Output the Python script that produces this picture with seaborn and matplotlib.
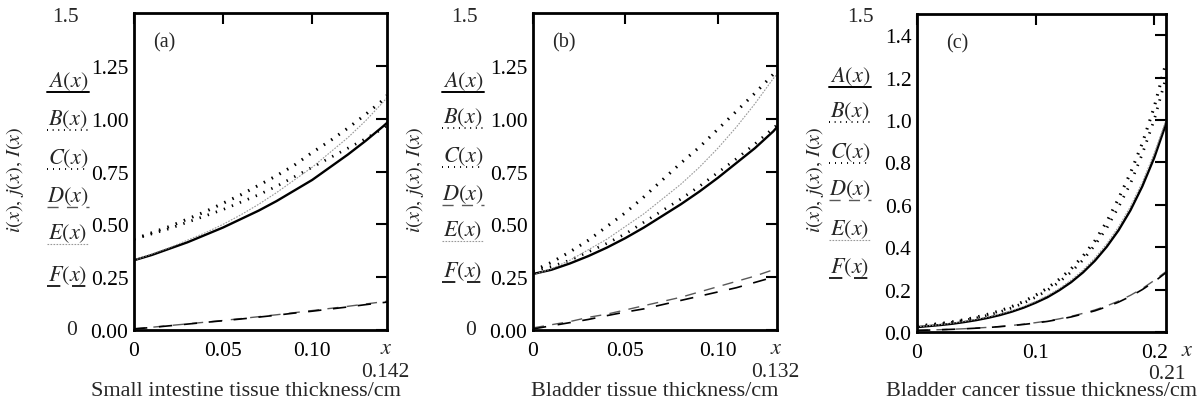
import numpy as np
import pandas as pd
import matplotlib
matplotlib.use("Agg")
import matplotlib.pyplot as plt
from matplotlib.lines import Line2D
import seaborn as sns

# ---- data ----
# panel (a) small intestine
xa = [0, 0.01, 0.02, 0.03, 0.04, 0.05, 0.06, 0.07, 0.08, 0.09, 0.10, 0.11, 0.12, 0.13, 0.14, 0.142]
a_A = [0.33, 0.355, 0.385, 0.415, 0.45, 0.485, 0.525, 0.565, 0.61, 0.66, 0.71, 0.77, 0.83, 0.895, 0.965, 0.98]
a_B = [0.43, 0.46, 0.49, 0.525, 0.56, 0.60, 0.64, 0.685, 0.73, 0.78, 0.84, 0.895, 0.955, 1.02, 1.09, 1.11]
a_C = [0.43, 0.455, 0.48, 0.51, 0.54, 0.57, 0.605, 0.64, 0.68, 0.725, 0.77, 0.815, 0.86, 0.905, 0.955, 0.97]
a_D = [0.006, 0.013, 0.021, 0.029, 0.037, 0.045, 0.054, 0.063, 0.072, 0.082, 0.092, 0.102, 0.112, 0.123, 0.134, 0.136]
a_E = [0.33, 0.36, 0.39, 0.425, 0.46, 0.50, 0.545, 0.595, 0.65, 0.71, 0.77, 0.84, 0.91, 0.99, 1.08, 1.10]
a_F = [0.005, 0.012, 0.02, 0.028, 0.036, 0.044, 0.052, 0.061, 0.07, 0.08, 0.089, 0.099, 0.109, 0.12, 0.13, 0.132]

# panel (b) bladder
xb = [0, 0.01, 0.02, 0.03, 0.04, 0.05, 0.06, 0.07, 0.08, 0.09, 0.10, 0.11, 0.12, 0.13, 0.132]
b_A = [0.265, 0.285, 0.315, 0.35, 0.39, 0.435, 0.485, 0.54, 0.595, 0.655, 0.72, 0.79, 0.86, 0.94, 0.96]
b_B = [0.28, 0.32, 0.37, 0.425, 0.49, 0.555, 0.63, 0.71, 0.79, 0.865, 0.95, 1.035, 1.12, 1.21, 1.23]
b_C = [0.28, 0.30, 0.33, 0.37, 0.41, 0.455, 0.51, 0.565, 0.62, 0.68, 0.745, 0.81, 0.88, 0.955, 0.97]
b_D = [0.01, 0.025, 0.04, 0.06, 0.075, 0.095, 0.115, 0.135, 0.155, 0.18, 0.205, 0.23, 0.255, 0.285, 0.29]
b_E = [0.26, 0.29, 0.33, 0.38, 0.43, 0.49, 0.55, 0.62, 0.69, 0.77, 0.86, 0.96, 1.07, 1.19, 1.21]
b_F = [0.005, 0.02, 0.035, 0.05, 0.068, 0.085, 0.10, 0.12, 0.14, 0.16, 0.18, 0.20, 0.225, 0.25, 0.255]

# panel (c) bladder cancer
xc = [0, 0.01, 0.02, 0.03, 0.04, 0.05, 0.06, 0.07, 0.08, 0.09, 0.10,
      0.11, 0.12, 0.13, 0.14, 0.15, 0.16, 0.17, 0.18, 0.19, 0.20, 0.21]
c_A = [0.023, 0.028, 0.033, 0.039, 0.047, 0.056, 0.067, 0.080, 0.096, 0.115, 0.138,
       0.164, 0.197, 0.235, 0.281, 0.336, 0.402, 0.48, 0.574, 0.687, 0.821, 0.982]
c_B = [0.028, 0.034, 0.040, 0.048, 0.058, 0.070, 0.084, 0.100, 0.120, 0.144, 0.173,
       0.207, 0.249, 0.298, 0.358, 0.43, 0.52, 0.63, 0.75, 0.89, 1.06, 1.27]
c_C = [0.027, 0.032, 0.038, 0.046, 0.055, 0.066, 0.079, 0.095, 0.114, 0.137, 0.164,
       0.197, 0.236, 0.283, 0.34, 0.41, 0.49, 0.59, 0.70, 0.84, 1.00, 1.20]
c_D = [0.008, 0.0095, 0.011, 0.013, 0.0155, 0.0185, 0.022, 0.026, 0.031, 0.037, 0.044,
       0.052, 0.062, 0.074, 0.088, 0.104, 0.123, 0.146, 0.173, 0.205, 0.243, 0.285]
c_E = [0.025, 0.03, 0.035, 0.042, 0.05, 0.06, 0.071, 0.085, 0.101, 0.121, 0.144,
       0.172, 0.205, 0.245, 0.292, 0.349, 0.416, 0.496, 0.592, 0.706, 0.842, 1.0]
c_F = [0.0076, 0.009, 0.0107, 0.0127, 0.0151, 0.018, 0.0213, 0.0253, 0.030, 0.0357, 0.0424,
       0.050, 0.060, 0.071, 0.085, 0.10, 0.119, 0.141, 0.168, 0.20, 0.237, 0.28]

curve_names = ["A", "B", "C", "D", "E", "F"]
panel_tags = ["(a)", "(b)", "(c)"]
xlabels = ["Small intestine tissue thickness/cm", "Bladder tissue thickness/cm",
           "Bladder cancer tissue thickness/cm"]
xmax_labels = ["0.142", "0.132", "0.21"]
xmaxes = [0.142, 0.132, 0.21]
xtick_vals = [[0, 0.05, 0.10], [0, 0.05, 0.10], [0, 0.1, 0.2]]
xtick_text = [["0", "0.05", "0.10"], ["0", "0.05", "0.10"], ["0", "0.1", "0.2"]]
ytick_vals = [[0, 0.25, 0.5, 0.75, 1.0, 1.25], [0, 0.25, 0.5, 0.75, 1.0, 1.25],
              [0, 0.2, 0.4, 0.6, 0.8, 1.0, 1.2, 1.4]]
ytick_text = [["0.00", "0.25", "0.50", "0.75", "1.00", "1.25"],
              ["0.00", "0.25", "0.50", "0.75", "1.00", "1.25"],
              ["0.0", "0.2", "0.4", "0.6", "0.8", "1.0", "1.2", "1.4"]]

panels = [
    (xa, [a_A, a_B, a_C, a_D, a_E, a_F]),
    (xb, [b_A, b_B, b_C, b_D, b_E, b_F]),
    (xc, [c_A, c_B, c_C, c_D, c_E, c_F]),
]

# line looks for each curve
styles = {
    "A": dict(color="black", lw=1.7, ls="-"),
    "B": dict(color="black", lw=2.2, ls=(0, (0.5, 2.4))),
    "C": dict(color="black", lw=2.0, ls=(0, (0.5, 2.6))),
    "D": dict(color="0.35", lw=1.0, ls=(0, (8, 6))),
    "E": dict(color="0.6", lw=0.8, ls=(0, (1.5, 1.2))),
    "F": dict(color="black", lw=1.2, ls=(0, (8, 7))),
}

sns.set_theme(style="white")
plt.rcParams["font.family"] = ["Liberation Serif", "DejaVu Serif"]
plt.rcParams["mathtext.fontset"] = "stix"

W, H = 1202, 414
fig = plt.figure(figsize=(W / 100, H / 100), dpi=100)


def fx(px):
    return px / W


def fy(py):
    return 1 - py / H


# axes boxes in pixels: left, top, right, bottom
boxes = [(134, 14, 387, 331), (533, 14, 777, 331), (917, 15, 1166, 333)]
# legend label positions (center x, center y of text) per panel
leg_x = [68, 463, 850]
leg_y = [[82, 120, 159, 197, 234, 276],
         [82, 118, 157, 195, 231, 272],
         [77, 112, 153, 190, 230, 268]]
ylab_x = [15, 415, 815]
tag_x = [0.075, 0.08, 0.115]
fs = 15.5

for i, (xs, ys) in enumerate(panels):
    l, t, r, b = boxes[i]
    ax = fig.add_axes([fx(l), fy(b), fx(r) - fx(l), fy(t) - fy(b)])
    for name, yv in zip(curve_names, ys):
        st = styles[name]
        df = pd.DataFrame({"x": xs, "y": yv})
        sns.lineplot(data=df, x="x", y="y", ax=ax, color=st["color"], lw=st["lw"],
                     linestyle=st["ls"], legend=False, errorbar=None)
    ax.set_xlim(0, xmaxes[i])
    ax.set_ylim(0, 1.5)
    ax.set_xticks(xtick_vals[i])
    ax.set_xticklabels(xtick_text[i])
    ax.set_yticks(ytick_vals[i])
    ax.set_yticklabels(ytick_text[i])
    ax.set_xlabel("")
    ax.set_ylabel("")
    ax.tick_params(direction="in", length=8, width=1.5, top=True, right=True,
                   labelsize=fs, colors="black")
    ax.tick_params(axis="x", pad=8)
    ax.tick_params(axis="y", pad=4)
    for sp in ax.spines.values():
        sp.set_color("black")
        sp.set_linewidth(2)

    # panel tag
    ax.text(tag_x[i], 0.91, panel_tags[i], transform=ax.transAxes, fontsize=14.5,
            ha="left", va="center")
    # Mathcad style limits
    fig.text(fx(l - 69 if i < 2 else l - 57), fy(t + 3), "1.5", fontsize=fs,
             ha="center", va="center")
    if i < 2:
        fig.text(fx(l - 62), fy(b), "0", fontsize=fs, ha="center", va="center")
    fig.text(fx(r - 1 if i < 2 else r + 21), fy(b + 19), r"$x$", fontsize=16,
             ha="center", va="center")
    fig.text(fx(r - 2 if i < 2 else r + 1), fy(b + 42), xmax_labels[i], fontsize=fs,
             ha="center", va="center")
    fig.text(fx((l + r) / 2 - (15 if i == 0 else 0)), fy(392), xlabels[i], fontsize=16,
             ha="center", va="center")
    fig.text(fx(ylab_x[i]), fy(180), r"$i(x),\, j(x),\, I(x)$", fontsize=14.5,
             rotation=90, ha="center", va="center")

    # legend block on the left of the tick labels
    for j, name in enumerate(curve_names):
        cx, cy = leg_x[i], leg_y[i][j]
        fig.text(fx(cx), fy(cy), r"$%s(x)$" % name, fontsize=16,
                 ha="center", va="center")
        st = styles[name]
        ly = cy + 11
        fig.add_artist(Line2D([fx(cx - 21), fx(cx + 21)], [fy(ly), fy(ly)],
                              color=st["color"], lw=min(st["lw"], 1.4),
                              linestyle=st["ls"], transform=fig.transFigure))

fig.savefig("out.png", dpi=100, facecolor="white")
